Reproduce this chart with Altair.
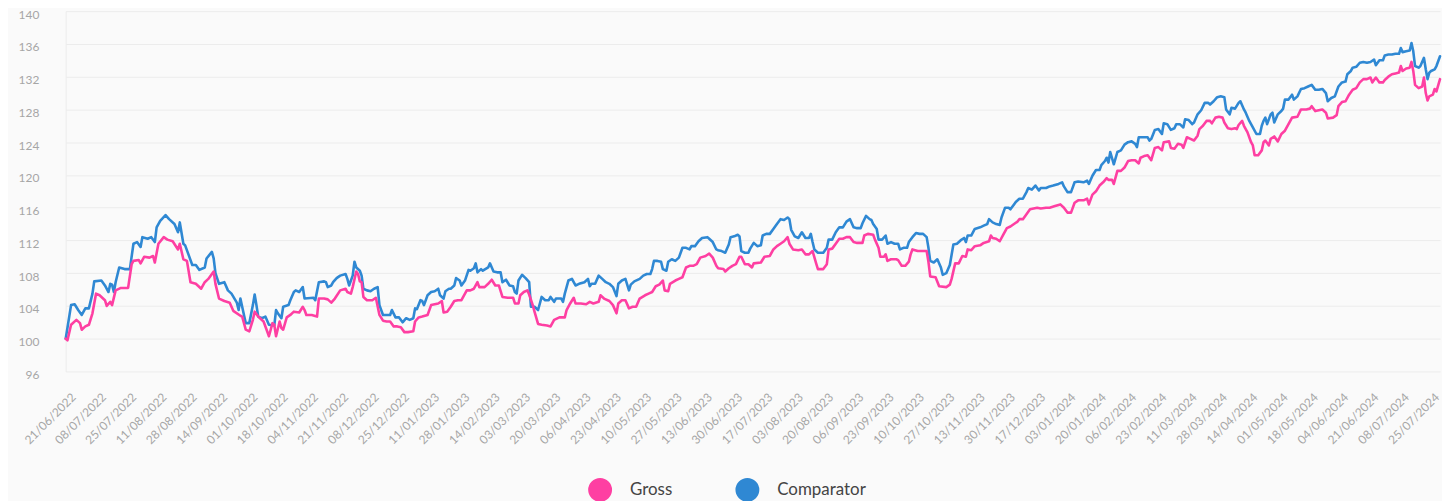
import altair as alt
import pandas as pd

START = pd.Timestamp("2022-06-21")
END_DAY = 771

series_names = ["Gross", "Comparator"]
series_colors = ["#fe3fa2", "#2f88d3"]

y_ticks = [96, 100, 104, 108, 112, 116, 120, 124, 128, 132, 136, 140]
x_tick_step = 17
x_tick_count = 46

gross_days = [0, 1, 3, 6, 8, 9, 11, 13, 15, 17, 19, 22, 23, 25, 26, 28, 31, 35, 37, 38, 41, 42, 44, 47, 49, 50, 52, 55, 57, 60, 63, 64, 66, 68, 70, 73, 76, 78, 80, 83, 84, 86, 89, 92, 94, 98, 99, 101, 103, 105, 106, 108, 109, 111, 113, 114, 116, 117, 118, 120, 121, 122, 124, 126, 128, 131, 133, 134, 135, 138, 141, 142, 145, 147, 149, 151, 154, 157, 158, 160, 161, 163, 164, 165, 166, 167, 169, 172, 174, 176, 178, 180, 182, 184, 186, 188, 190, 192, 195, 196, 198, 200, 203, 205, 207, 209, 211, 212, 214, 216, 218, 220, 222, 223, 225, 227, 229, 231, 232, 235, 237, 239, 241, 243, 245, 248, 251, 252, 254, 255, 257, 259, 260, 262, 263, 265, 267, 270, 272, 274, 277, 280, 281, 283, 285, 286, 289, 292, 294, 296, 299, 300, 302, 305, 307, 309, 310, 312, 314, 316, 318, 320, 322, 325, 327, 329, 331, 333, 335, 336, 338, 339, 342, 344, 346, 348, 350, 352, 354, 356, 359, 361, 363, 365, 366, 369, 370, 372, 374, 376, 378, 379, 381, 383, 385, 386, 390, 392, 395, 397, 399, 401, 403, 405, 406, 408, 411, 413, 415, 417, 419, 421, 422, 425, 427, 428, 430, 432, 434, 436, 438, 440, 442, 444, 447, 448, 450, 453, 454, 456, 457, 459, 460, 461, 463, 466, 467, 469, 471, 473, 474, 475, 478, 480, 483, 484, 485, 488, 490, 494, 496, 497, 499, 501, 503, 505, 506, 508, 510, 513, 515, 518, 519, 520, 522, 524, 526, 528, 530, 532, 534, 535, 537, 539, 541, 543, 545, 547, 550, 552, 555, 558, 560, 562, 564, 566, 568, 571, 573, 574, 576, 578, 580, 582, 584, 585, 587, 588, 590, 592, 594, 596, 598, 600, 602, 603, 605, 607, 609, 611, 613, 615, 616, 619, 620, 622, 624, 626, 627, 629, 631, 633, 635, 636, 638, 640, 642, 643, 645, 647, 649, 650, 652, 654, 656, 657, 658, 660, 661, 663, 665, 666, 667, 669, 671, 672, 673, 675, 676, 678, 680, 682, 684, 688, 691, 693, 696, 698, 699, 701, 703, 705, 707, 708, 711, 713, 714, 716, 718, 720, 722, 724, 726, 728, 730, 732, 733, 735, 737, 739, 740, 742, 744, 746, 748, 749, 750, 752, 754, 755, 756, 757, 759, 761, 762, 763, 764, 765, 767, 768, 769, 771]
gross_vals = [100.0, 99.8, 101.7, 102.3, 101.9, 101.1, 101.5, 101.7, 103.1, 105.5, 105.3, 104.7, 104.0, 104.5, 104.1, 105.9, 106.2, 106.2, 109.1, 109.5, 109.6, 109.2, 110.0, 109.9, 110.1, 109.3, 111.6, 112.4, 112.1, 111.9, 110.9, 111.6, 109.7, 109.5, 106.9, 106.7, 106.1, 106.9, 107.3, 108.2, 106.7, 104.9, 104.6, 104.4, 103.4, 102.8, 102.7, 101.1, 100.9, 102.3, 103.3, 102.7, 102.5, 102.1, 100.9, 100.3, 101.9, 101.7, 100.3, 102.1, 101.3, 101.1, 102.6, 102.9, 103.3, 103.2, 103.9, 103.5, 102.9, 102.9, 102.7, 104.9, 104.9, 104.8, 104.4, 104.9, 105.9, 106.1, 105.7, 105.5, 106.3, 108.2, 107.9, 107.0, 106.9, 105.1, 104.7, 104.7, 105.0, 102.9, 102.2, 102.1, 102.1, 101.5, 101.5, 101.4, 100.8, 100.8, 100.9, 102.1, 102.6, 102.7, 102.9, 104.1, 104.2, 104.3, 104.6, 103.2, 103.3, 103.9, 104.6, 104.7, 104.7, 105.1, 105.9, 105.9, 106.1, 106.9, 106.3, 106.3, 106.7, 107.2, 106.5, 106.5, 105.1, 105.0, 105.0, 104.3, 104.3, 105.3, 105.7, 105.9, 105.4, 104.1, 103.3, 101.8, 101.7, 101.6, 101.5, 102.3, 102.6, 102.6, 103.5, 104.3, 105.0, 104.3, 104.3, 104.2, 104.5, 104.3, 104.5, 105.3, 104.9, 104.6, 104.1, 103.1, 104.3, 104.7, 104.7, 103.7, 103.9, 103.9, 104.9, 105.3, 105.5, 105.7, 106.4, 106.6, 107.1, 105.9, 105.8, 106.7, 107.1, 107.3, 107.5, 108.7, 108.9, 108.9, 109.1, 109.9, 110.1, 110.4, 109.9, 108.9, 108.6, 108.5, 108.2, 108.6, 108.9, 109.1, 110.0, 110.0, 109.1, 109.1, 108.7, 109.2, 109.3, 110.0, 110.1, 110.9, 111.3, 111.6, 111.9, 112.4, 111.6, 110.9, 110.8, 110.9, 110.3, 110.3, 110.7, 109.2, 108.5, 108.5, 109.1, 110.9, 111.0, 111.6, 112.2, 112.2, 112.4, 112.4, 111.8, 111.7, 111.7, 112.6, 112.8, 112.7, 112.1, 111.1, 110.0, 110.0, 110.3, 109.5, 109.7, 109.7, 109.6, 108.9, 108.9, 109.4, 110.3, 110.9, 110.7, 110.7, 110.7, 109.4, 107.6, 107.5, 106.4, 106.3, 106.6, 107.3, 109.2, 109.2, 110.1, 110.0, 110.9, 110.8, 111.3, 111.4, 111.7, 111.9, 112.6, 112.3, 112.2, 111.9, 112.7, 113.5, 113.7, 114.0, 114.3, 114.6, 114.6, 115.2, 115.8, 115.9, 116.0, 115.9, 116.0, 116.0, 116.2, 116.4, 116.0, 115.4, 115.4, 116.6, 116.9, 116.9, 117.1, 116.4, 117.6, 118.0, 118.7, 119.1, 119.6, 119.4, 119.4, 118.9, 120.5, 120.5, 120.9, 121.7, 121.8, 121.8, 121.4, 122.1, 122.3, 122.4, 121.8, 123.3, 123.4, 123.0, 124.0, 124.1, 123.3, 123.2, 123.8, 123.7, 123.3, 124.6, 124.4, 124.2, 124.8, 125.6, 126.0, 126.6, 126.6, 126.3, 127.0, 127.1, 127.0, 126.4, 125.7, 125.6, 125.7, 125.6, 126.1, 126.6, 126.0, 125.2, 124.0, 123.6, 122.4, 122.4, 123.0, 124.0, 124.2, 123.6, 124.4, 124.7, 124.1, 125.0, 125.4, 127.0, 127.1, 128.0, 128.0, 128.1, 128.4, 127.8, 127.9, 128.0, 127.6, 126.9, 127.0, 127.3, 128.4, 128.9, 129.0, 129.8, 130.4, 130.6, 131.3, 131.7, 131.7, 131.9, 131.3, 131.9, 131.3, 131.3, 131.6, 132.0, 132.3, 132.4, 132.5, 133.3, 132.7, 133.0, 133.1, 133.8, 132.7, 131.0, 130.6, 130.8, 131.9, 130.0, 129.1, 129.6, 129.8, 130.5, 130.2, 131.7]

comp_days = [0, 3, 5, 7, 9, 11, 13, 15, 16, 20, 22, 24, 25, 26, 27, 28, 30, 33, 36, 38, 40, 42, 43, 46, 48, 50, 51, 53, 56, 58, 61, 63, 64, 66, 67, 69, 71, 73, 75, 78, 79, 82, 83, 84, 86, 89, 91, 93, 96, 97, 98, 100, 101, 103, 105, 106, 107, 108, 110, 112, 114, 117, 118, 119, 121, 122, 125, 126, 128, 129, 131, 133, 134, 139, 140, 142, 145, 146, 147, 149, 150, 152, 154, 157, 158, 159, 161, 162, 163, 165, 166, 167, 169, 171, 173, 175, 176, 178, 180, 182, 183, 185, 187, 189, 191, 193, 195, 196, 197, 199, 200, 201, 203, 205, 207, 209, 210, 212, 213, 215, 216, 218, 219, 221, 222, 224, 226, 227, 229, 230, 231, 233, 234, 237, 238, 240, 242, 244, 245, 247, 249, 251, 252, 253, 254, 256, 258, 260, 261, 263, 265, 266, 267, 269, 271, 272, 274, 275, 278, 279, 280, 282, 284, 286, 288, 291, 293, 294, 295, 297, 299, 301, 303, 305, 307, 309, 310, 312, 314, 316, 317, 319, 322, 324, 326, 328, 329, 330, 332, 334, 335, 337, 338, 340, 342, 344, 346, 348, 350, 351, 353, 355, 357, 360, 361, 363, 365, 366, 368, 370, 372, 373, 375, 377, 378, 379, 381, 383, 384, 386, 388, 390, 391, 393, 395, 397, 399, 401, 403, 405, 406, 407, 409, 411, 413, 415, 417, 418, 419, 420, 422, 425, 427, 428, 430, 432, 434, 436, 438, 440, 442, 444, 446, 447, 449, 451, 452, 453, 455, 456, 458, 460, 461, 463, 465, 467, 468, 470, 472, 473, 475, 477, 479, 481, 483, 484, 485, 487, 489, 491, 492, 494, 496, 498, 500, 502, 504, 505, 506, 508, 510, 513, 515, 517, 518, 520, 522, 524, 525, 527, 529, 530, 532, 533, 535, 537, 539, 540, 542, 544, 546, 547, 550, 552, 554, 557, 559, 560, 562, 564, 566, 568, 571, 573, 574, 576, 578, 580, 581, 583, 584, 585, 586, 588, 590, 592, 594, 596, 598, 600, 601, 602, 605, 607, 608, 609, 611, 613, 615, 616, 618, 620, 622, 623, 625, 627, 628, 630, 632, 633, 635, 637, 639, 641, 642, 644, 646, 648, 650, 651, 653, 654, 656, 658, 659, 661, 662, 664, 666, 668, 670, 671, 672, 673, 674, 676, 677, 678, 680, 682, 683, 684, 686, 688, 689, 691, 693, 695, 697, 699, 701, 703, 705, 707, 708, 710, 712, 714, 716, 718, 719, 721, 722, 724, 726, 728, 730, 732, 734, 735, 737, 739, 740, 742, 744, 746, 748, 749, 750, 752, 754, 755, 756, 757, 759, 760, 762, 763, 764, 765, 766, 768, 769, 771]
comp_vals = [100.0, 104.1, 104.2, 103.5, 102.9, 103.7, 103.7, 105.5, 107.0, 107.1, 106.5, 105.7, 106.7, 106.6, 105.7, 106.9, 108.7, 108.5, 108.5, 111.6, 111.8, 111.2, 112.4, 112.2, 112.4, 111.8, 113.6, 114.4, 115.1, 114.6, 114.0, 113.0, 114.2, 111.6, 111.4, 110.2, 109.0, 109.0, 108.4, 108.7, 109.8, 110.6, 109.8, 108.0, 106.7, 106.9, 105.9, 105.5, 104.4, 103.5, 104.9, 102.9, 101.9, 101.9, 104.1, 105.4, 104.1, 102.7, 102.5, 102.7, 101.7, 101.6, 103.5, 103.1, 102.5, 103.9, 104.1, 104.7, 105.7, 105.9, 105.7, 106.3, 104.9, 105.0, 104.7, 106.9, 107.0, 106.9, 106.3, 106.5, 106.9, 107.4, 107.7, 107.9, 107.3, 106.5, 107.7, 109.4, 108.7, 108.3, 107.7, 106.1, 105.9, 105.8, 106.1, 106.3, 104.1, 102.9, 102.9, 102.9, 103.5, 102.6, 102.6, 102.0, 102.5, 102.3, 102.5, 103.7, 103.6, 104.7, 104.6, 104.1, 105.3, 105.7, 105.8, 106.1, 105.3, 104.9, 105.8, 106.1, 106.1, 106.5, 107.4, 107.1, 106.5, 107.1, 108.4, 108.3, 108.6, 109.2, 108.1, 108.5, 108.3, 108.7, 109.2, 108.2, 108.1, 108.1, 106.9, 107.2, 106.5, 106.4, 105.7, 105.5, 107.1, 107.8, 107.4, 106.9, 103.9, 103.9, 103.5, 104.3, 105.1, 104.7, 104.7, 105.1, 104.5, 104.9, 104.9, 104.5, 105.5, 107.1, 107.3, 106.5, 106.7, 106.9, 107.3, 106.4, 106.7, 106.7, 107.7, 107.3, 106.9, 106.7, 106.3, 105.2, 106.7, 107.1, 107.3, 105.9, 106.6, 107.0, 107.3, 107.7, 107.9, 107.9, 108.5, 109.5, 109.5, 109.4, 108.5, 108.3, 109.4, 109.7, 109.5, 109.9, 111.1, 111.1, 110.9, 111.3, 111.3, 111.9, 112.3, 112.4, 112.2, 111.8, 110.9, 110.8, 110.7, 110.5, 111.5, 112.4, 112.5, 112.7, 112.5, 110.7, 110.5, 110.5, 111.0, 111.7, 111.3, 111.4, 112.6, 112.8, 112.8, 113.4, 114.0, 114.6, 114.5, 114.8, 114.6, 113.3, 112.5, 112.3, 113.0, 112.3, 112.3, 112.8, 111.8, 110.9, 110.5, 110.5, 111.1, 112.1, 112.1, 113.0, 113.6, 113.6, 114.3, 114.6, 113.6, 113.5, 113.5, 114.1, 115.0, 114.6, 114.5, 114.0, 113.4, 112.1, 112.1, 112.6, 111.6, 111.8, 111.6, 111.6, 110.9, 111.1, 111.1, 111.8, 112.4, 112.9, 112.8, 112.8, 112.4, 111.1, 109.5, 109.3, 109.7, 108.7, 107.8, 108.0, 109.0, 111.5, 111.6, 112.0, 112.3, 111.8, 112.6, 112.6, 113.4, 113.6, 113.8, 114.0, 114.6, 114.2, 114.0, 113.9, 114.8, 116.0, 116.0, 115.8, 116.4, 116.7, 117.1, 117.1, 117.9, 118.4, 118.2, 118.7, 118.1, 118.4, 118.4, 118.6, 118.7, 118.9, 119.1, 118.6, 117.9, 117.9, 119.1, 119.2, 119.1, 119.3, 118.9, 119.9, 120.6, 120.6, 121.2, 121.7, 122.1, 121.5, 122.8, 121.3, 122.8, 123.0, 123.7, 124.0, 124.1, 123.8, 123.4, 124.6, 124.6, 124.6, 124.2, 124.4, 125.5, 125.6, 125.0, 126.3, 126.2, 125.5, 125.7, 126.2, 126.2, 125.8, 126.8, 126.7, 126.2, 126.4, 127.4, 127.9, 128.8, 128.8, 128.6, 129.0, 129.5, 129.6, 129.5, 128.0, 127.4, 128.2, 128.1, 128.8, 129.0, 128.0, 127.6, 126.6, 125.8, 125.0, 125.0, 126.0, 126.6, 127.0, 126.2, 127.4, 127.6, 126.4, 127.4, 127.8, 128.1, 129.2, 129.2, 129.8, 129.2, 129.6, 130.5, 130.6, 130.8, 131.0, 130.4, 130.4, 130.5, 130.0, 129.0, 129.4, 129.6, 130.8, 131.3, 131.4, 132.3, 132.7, 133.1, 133.2, 133.7, 133.8, 133.7, 133.8, 134.1, 133.4, 134.0, 134.0, 134.6, 134.7, 134.7, 134.8, 134.8, 135.5, 135.0, 135.1, 135.2, 136.1, 135.1, 133.3, 133.1, 133.3, 134.3, 132.9, 131.7, 132.5, 132.7, 132.9, 133.3, 134.5]


def to_ms(day):
    return int((START + pd.Timedelta(days=day)).timestamp() * 1000)


rows = []
for d, v in zip(comp_days, comp_vals):
    rows.append({"t": to_ms(d), "value": v, "series": "Comparator", "k": 0})
for d, v in zip(gross_days, gross_vals):
    rows.append({"t": to_ms(d), "value": v, "series": "Gross", "k": 1})
df = pd.DataFrame(rows)

x_tick_values = [to_ms(i * x_tick_step) for i in range(x_tick_count)]

FONT = "Lato"

chart = (
    alt.Chart(df)
    .mark_line(strokeWidth=2.6, strokeJoin="round", strokeCap="round")
    .encode(
        x=alt.X(
            "t:T",
            scale=alt.Scale(type="utc", domain=[to_ms(0), to_ms(END_DAY)]),
            axis=alt.Axis(
                title=None,
                values=x_tick_values,
                format="%d/%m/%Y",
                labelAngle=-45,
                labelOverlap=False,
                labelFlush=False,
                labelBound=False,
                ticks=False,
                domain=False,
                grid=False,
                labelPadding=20,
                labelOffset=4,
                labelColor="#a6a6a6",
                labelFontSize=12,
                labelFont=FONT,
            ),
        ),
        y=alt.Y(
            "value:Q",
            scale=alt.Scale(domain=[96, 140], nice=False, zero=False),
            axis=alt.Axis(
                title=None,
                values=y_ticks,
                ticks=False,
                domain=True,
                domainColor="#ececec",
                gridColor="#ececec",
                labelPadding=27,
                labelOffset=3,
                labelColor="#a6a6a6",
                labelFontSize=12,
                labelFont=FONT,
                minExtent=58,
                maxExtent=58,
            ),
        ),
        color=alt.Color(
            "series:N",
            scale=alt.Scale(domain=series_names, range=series_colors),
            legend=alt.Legend(
                title=None,
                orient="none",
                direction="horizontal",
                legendX=525,
                legendY=469,
                symbolType="circle",
                symbolSize=144,
                symbolStrokeWidth=12,
                labelFont=FONT,
                labelFontSize=17,
                labelColor="#444444",
                labelOffset=18,
                columnPadding=45,
            ),
        ),
        detail="series:N",
        order=alt.Order("k:Q"),
    )
    .properties(
        width=1381,
        height=362,
        padding={"left": 58, "top": 2, "right": 2, "bottom": 129},
        autosize=alt.AutoSizeParams(type="none"),
        background="#fafafa",
    )
    .configure_view(stroke=None)
)

chart.save("out.html", embed_options={"renderer": "svg", "actions": False})
